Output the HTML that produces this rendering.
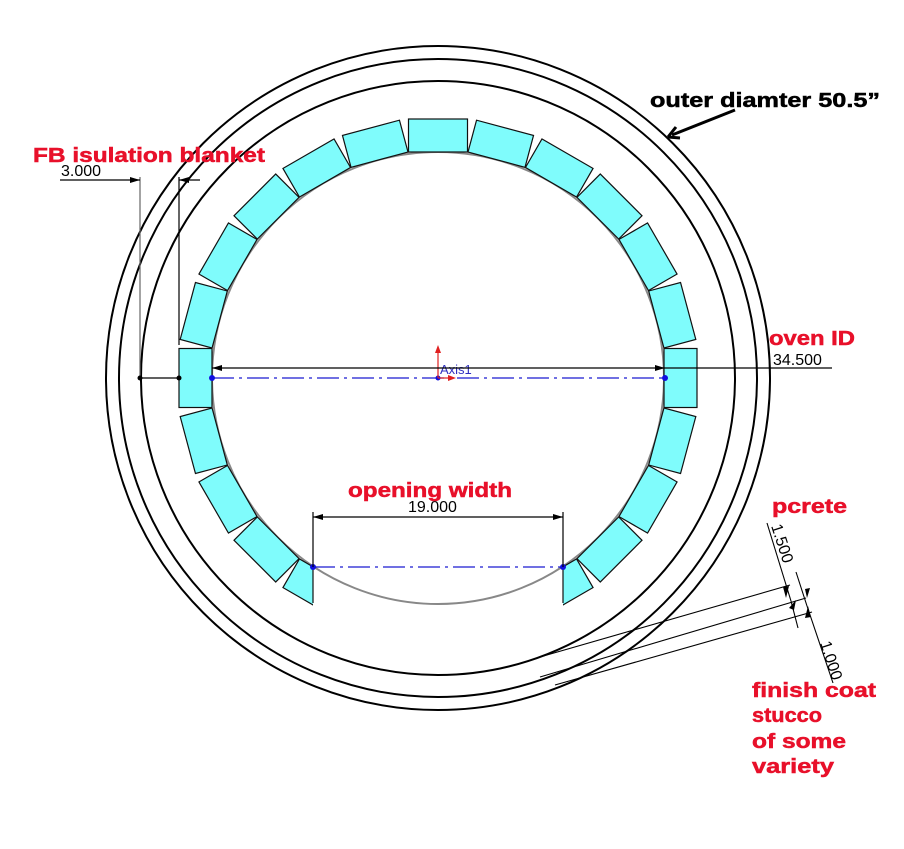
<!DOCTYPE html>
<html><head><meta charset="utf-8"><style>
html,body{margin:0;padding:0;background:#fff;}
.lbl{font-family:"Liberation Sans",sans-serif;font-weight:bold;font-size:20px;fill:#e8102a;stroke:#e8102a;stroke-width:0.5;}
.dim{font-family:"Liberation Sans",sans-serif;font-size:16px;fill:#000;}
</style></head><body>
<svg width="904" height="844" viewBox="0 0 904 844" xmlns="http://www.w3.org/2000/svg">
<defs>
<clipPath id="cp" clipPathUnits="userSpaceOnUse">
<rect x="0" y="0" width="313" height="844"/><rect x="563" y="0" width="341" height="844"/>
</clipPath>
<marker id="ar" viewBox="0 0 10 6" refX="10" refY="3" markerWidth="10" markerHeight="6" orient="auto" markerUnits="userSpaceOnUse"><path d="M0,0L10,3L0,6z" fill="#000"/></marker>
</defs>
<g fill="none" stroke="#000" stroke-width="2">
<circle cx="438" cy="378" r="332"/>
<circle cx="438" cy="378" r="319"/>
<circle cx="438" cy="378" r="297"/>
</g>
<circle cx="438" cy="378" r="226" fill="none" stroke="#888" stroke-width="2"/>
<g transform="translate(438,378)" fill="#7ffcfc" stroke="#111" stroke-width="1.2">
<rect x="-29.5" y="-259" width="59" height="33" transform="rotate(0)"/>
<rect x="-29.5" y="-259" width="59" height="33" transform="rotate(15)"/>
<rect x="-29.5" y="-259" width="59" height="33" transform="rotate(30)"/>
<rect x="-29.5" y="-259" width="59" height="33" transform="rotate(45)"/>
<rect x="-29.5" y="-259" width="59" height="33" transform="rotate(60)"/>
<rect x="-29.5" y="-259" width="59" height="33" transform="rotate(75)"/>
<rect x="-29.5" y="-259" width="59" height="33" transform="rotate(90)"/>
<rect x="-29.5" y="-259" width="59" height="33" transform="rotate(105)"/>
<rect x="-29.5" y="-259" width="59" height="33" transform="rotate(120)"/>
<rect x="-29.5" y="-259" width="59" height="33" transform="rotate(135)"/>
<rect x="-29.5" y="-259" width="59" height="33" transform="rotate(225)"/>
<rect x="-29.5" y="-259" width="59" height="33" transform="rotate(240)"/>
<rect x="-29.5" y="-259" width="59" height="33" transform="rotate(255)"/>
<rect x="-29.5" y="-259" width="59" height="33" transform="rotate(270)"/>
<rect x="-29.5" y="-259" width="59" height="33" transform="rotate(285)"/>
<rect x="-29.5" y="-259" width="59" height="33" transform="rotate(300)"/>
<rect x="-29.5" y="-259" width="59" height="33" transform="rotate(315)"/>
<rect x="-29.5" y="-259" width="59" height="33" transform="rotate(330)"/>
<rect x="-29.5" y="-259" width="59" height="33" transform="rotate(345)"/>
</g>
<g clip-path="url(#cp)">
<g transform="translate(438,378)" fill="#7ffcfc" stroke="#111" stroke-width="1.2">
<rect x="-29.5" y="-259" width="59" height="33" transform="rotate(150)"/>
<rect x="-29.5" y="-259" width="59" height="33" transform="rotate(210)"/>
</g>
</g>
<line x1="313" y1="567" x2="313" y2="603" stroke="#111" stroke-width="1.2"/>
<line x1="563" y1="567" x2="563" y2="603" stroke="#111" stroke-width="1.2"/>
<line x1="212" y1="378" x2="665" y2="378" stroke="#1a1ad0" stroke-width="1.3" stroke-dasharray="22,5,3,5"/>
<line x1="313" y1="567" x2="563" y2="567" stroke="#1a1ad0" stroke-width="1.3" stroke-dasharray="22,5,3,5"/>
<g fill="#1010e0"><circle cx="212" cy="378" r="3"/><circle cx="665" cy="378" r="3"/><circle cx="313" cy="567" r="3"/><circle cx="563" cy="567" r="3"/><circle cx="438" cy="378" r="2.5"/></g>
<line x1="438" y1="378" x2="438" y2="350" stroke="#e02020" stroke-width="1.2"/>
<path d="M438,345l-3,8h6z" fill="#e02020"/>
<line x1="438" y1="378" x2="452" y2="378" stroke="#e02020" stroke-width="1.2"/>
<path d="M456,378l-8,-3v6z" fill="#e02020"/>
<text x="440" y="374" font-family="Liberation Sans,sans-serif" font-size="13" fill="#3030c0">Axis1</text>
<g stroke="#000" stroke-width="1.2">
<line x1="300" y1="368" x2="212" y2="368" marker-end="url(#ar)"/>
<line x1="500" y1="368" x2="665" y2="368" marker-end="url(#ar)"/>
<line x1="665" y1="368" x2="832" y2="368"/>
<line x1="300" y1="368" x2="500" y2="368"/>
</g>
<text x="773" y="365" class="dim">34.500</text>
<g stroke="#000" stroke-width="1.2">
<line x1="140" y1="177" x2="140" y2="378" stroke="#666"/>
<line x1="179" y1="177" x2="179" y2="345"/>
<line x1="60" y1="180" x2="140" y2="180" marker-end="url(#ar)"/>
<line x1="200" y1="180" x2="179" y2="180" marker-end="url(#ar)"/>
<line x1="140" y1="378" x2="179" y2="378"/>
</g>
<g fill="#000"><circle cx="140" cy="378" r="2.5"/><circle cx="179" cy="378" r="2.5"/></g>
<text x="61" y="176" class="dim">3.000</text>
<g stroke="#000" stroke-width="1.2">
<line x1="313" y1="512" x2="313" y2="567"/>
<line x1="563" y1="512" x2="563" y2="567"/>
<line x1="438" y1="517" x2="313" y2="517" marker-end="url(#ar)"/>
<line x1="438" y1="517" x2="563" y2="517" marker-end="url(#ar)"/>
</g>
<text x="408" y="512" class="dim">19.000</text>
<g stroke="#000" stroke-width="1.1">
<line x1="540" y1="657" x2="790" y2="585"/>
<line x1="540" y1="677" x2="806" y2="598"/>
<line x1="555" y1="685" x2="812" y2="612"/>
<line x1="767" y1="523" x2="791" y2="601" />
<line x1="791" y1="601" x2="798" y2="628"/>
<line x1="796" y1="572" x2="807" y2="606"/>
<line x1="807" y1="606" x2="833" y2="683"/>
</g>
<path d="M786,598l-3,-11l6,-1z" fill="#000"/>
<path d="M796,600l-2,10l-5,-2z" fill="#000"/>
<path d="M808,606l3,11l-6,1z" fill="#000"/>
<path d="M807,598l-2,-9l5,-1z" fill="#000"/>
<text class="dim" transform="translate(771,526) rotate(72)">1.500</text>
<text class="dim" transform="translate(820,643) rotate(72)">1.000</text>
<text x="33" y="162" class="lbl" textLength="232" lengthAdjust="spacingAndGlyphs">FB isulation blanket</text>
<text x="650" y="107" class="lbl" style="fill:#000;stroke:#000" textLength="230" lengthAdjust="spacingAndGlyphs">outer diamter 50.5”</text>
<line x1="735" y1="110" x2="672" y2="135" stroke="#000" stroke-width="3"/>
<path d="M668,137l8,-10M668,137l12,1" stroke="#000" stroke-width="3" fill="none"/>
<text x="769" y="345" class="lbl" textLength="86" lengthAdjust="spacingAndGlyphs">oven ID</text>
<text x="348" y="497" class="lbl" textLength="164" lengthAdjust="spacingAndGlyphs">opening width</text>
<text x="772" y="513" class="lbl" textLength="75" lengthAdjust="spacingAndGlyphs">pcrete</text>
<text x="752" y="697" class="lbl" textLength="124" lengthAdjust="spacingAndGlyphs">finish coat</text>
<text x="752" y="722" class="lbl" textLength="70" lengthAdjust="spacingAndGlyphs">stucco</text>
<text x="752" y="748" class="lbl" textLength="94" lengthAdjust="spacingAndGlyphs">of some</text>
<text x="752" y="773" class="lbl" textLength="82" lengthAdjust="spacingAndGlyphs">variety</text>
</svg>
</body></html>
